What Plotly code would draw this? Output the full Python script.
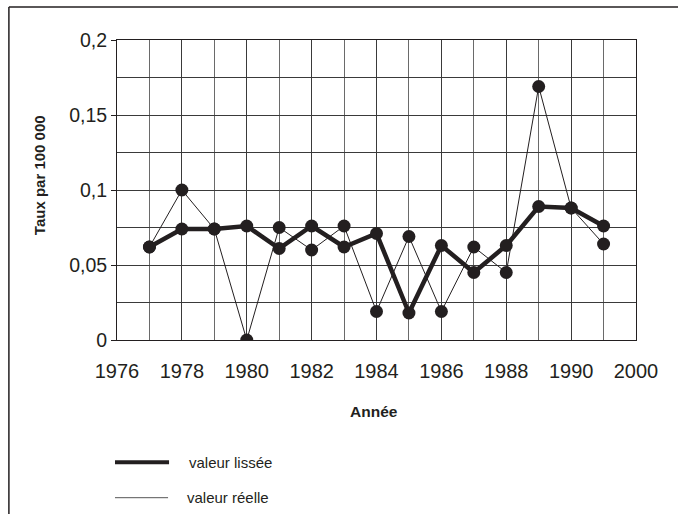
import plotly.graph_objects as go

# data
annees = [1977, 1978, 1979, 1980, 1981, 1982, 1983, 1984, 1985, 1986, 1987, 1988, 1989, 1990, 1991]
valeur_reelle = [0.062, 0.100, 0.074, 0.000, 0.075, 0.060, 0.076, 0.019, 0.069, 0.019, 0.062, 0.045, 0.169, 0.088, 0.064]
valeur_lissee = [0.062, 0.074, 0.074, 0.076, 0.061, 0.076, 0.062, 0.071, 0.018, 0.063, 0.045, 0.063, 0.089, 0.088, 0.076]
tick_pos = [1976, 1978, 1980, 1982, 1984, 1986, 1988, 1990, 1992]
tick_txt = ["1976", "1978", "1980", "1982", "1984", "1986", "1988", "1990", "2000"]

noir = "#231f20"
FONT = "Liberation Sans, Arial, sans-serif"

fig = go.Figure()
fig.add_trace(go.Scatter(x=annees, y=valeur_reelle, mode="lines+markers", name="valeur réelle",
                         line=dict(color=noir, width=1), marker=dict(color=noir, size=13)))
fig.add_trace(go.Scatter(x=annees, y=valeur_lissee, mode="lines+markers", name="valeur lissée",
                         line=dict(color=noir, width=4.5), marker=dict(color=noir, size=13)))

fig.update_xaxes(range=[1976, 1992], tickvals=tick_pos, ticktext=tick_txt, showgrid=True,
                 gridcolor="#3a3a3a", gridwidth=1, minor=dict(dtick=1, showgrid=True, gridcolor="#6a6a6a"),
                 showline=True, linecolor=noir, linewidth=1, mirror=True, ticks="",
                 ticklabelstandoff=13, tickfont=dict(size=20, color=noir), zeroline=False)
fig.update_yaxes(range=[0, 0.2], dtick=0.05, showgrid=True, gridcolor="#3a3a3a", gridwidth=1,
                 minor=dict(dtick=0.025, showgrid=True, gridcolor="#3a3a3a"),
                 showline=True, linecolor=noir, linewidth=1, mirror=True,
                 ticks="outside", ticklen=5, tickcolor=noir, tickfont=dict(size=19.5, color=noir),
                 zeroline=False)

fig.update_layout(
    width=678, height=514, showlegend=False, separators=", ",
    margin=dict(l=117, r=42, t=40, b=174),
    paper_bgcolor="white", plot_bgcolor="white",
    font=dict(family=FONT, color=noir),
    annotations=[
        dict(text="<b>Taux par 100 000</b>", textangle=-90, x=-0.150, y=0.55, xref="paper", yref="paper",
             showarrow=False, font=dict(size=15), xanchor="center", yanchor="middle"),
        dict(text="<b>Année</b>", x=0.495, y=-0.239, xref="paper", yref="paper",
             showarrow=False, font=dict(size=15.5), xanchor="center", yanchor="middle"),
        dict(text="valeur lissée", x=(187 - 117) / 518.5, y=(340 - 462) / 300, xref="paper", yref="paper",
             showarrow=False, font=dict(size=15), xanchor="left", yanchor="middle"),
        dict(text="valeur réelle", x=(185 - 117) / 518.5, y=(340 - 497.5) / 300, xref="paper", yref="paper",
             showarrow=False, font=dict(size=15), xanchor="left", yanchor="middle"),
    ],
    shapes=[
        # legend samples
        dict(type="line", xref="paper", yref="paper", x0=(115 - 117) / 518.5, x1=(169 - 117) / 518.5,
             y0=(340 - 462.3) / 300, y1=(340 - 462.3) / 300, line=dict(color=noir, width=4)),
        dict(type="line", xref="paper", yref="paper", x0=(115 - 117) / 518.5, x1=(168 - 117) / 518.5,
             y0=(340 - 497.7) / 300, y1=(340 - 497.7) / 300, line=dict(color="#555555", width=1)),
        # outer frame (top and left)
        dict(type="line", xref="paper", yref="paper", x0=(9 - 117) / 518.5, x1=1.2,
             y0=(340 - 7) / 300, y1=(340 - 7) / 300, line=dict(color=noir, width=1.5)),
        dict(type="line", xref="paper", yref="paper", x0=(9 - 117) / 518.5, x1=(9 - 117) / 518.5,
             y0=(340 - 7) / 300, y1=-0.7, line=dict(color=noir, width=1.5)),
    ],
)

# drop the default page margin so the figure sits at the window origin
fig.write_html("out.html", config={"displayModeBar": False},
               post_script="document.body.style.margin='0';")
